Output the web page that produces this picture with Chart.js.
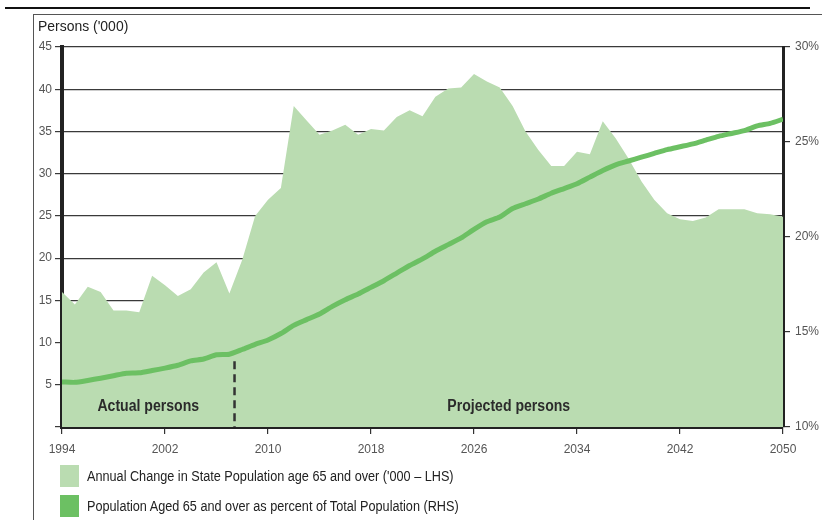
<!DOCTYPE html>
<html>
<head>
<meta charset="utf-8">
<script src="https://cdn.jsdelivr.net/npm/chart.js@4.4.1/dist/chart.umd.min.js"></script>
<style>
body{margin:0;background:#fff;font-family:"Liberation Sans",Arial,sans-serif;}
#wrap{position:relative;width:822px;height:520px;overflow:hidden;}
#chart{position:absolute;left:0;top:0;}
.rule{position:absolute;}
.ttl{position:absolute;left:38px;top:17px;font-size:15px;color:#222;transform:scaleX(.93);transform-origin:left top;white-space:nowrap;}
.leg{position:absolute;left:60px;height:22px;font-size:14px;color:#222;white-space:nowrap;}
.leg i{position:absolute;left:0;top:0;width:19px;height:22px;}
.leg span{position:absolute;left:27px;top:3px;transform:scaleX(.905);transform-origin:left top;}
</style>
</head>
<body>
<div id="wrap">
  <canvas id="chart" width="822" height="520"></canvas>
  <div class="rule" style="left:5px;top:7px;width:805px;height:2px;background:#111"></div>
  <div class="rule" style="left:33px;top:14px;width:789px;height:1px;background:#555"></div>
  <div class="rule" style="left:33px;top:14px;width:1px;height:506px;background:#555"></div>
  <div class="ttl">Persons ('000)</div>
  <div class="leg" style="top:465px"><i style="background:#badcb1"></i><span>Annual Change in State Population age 65 and over ('000 – LHS)</span></div>
  <div class="leg" style="top:495px"><i style="background:#6cc063"></i><span>Population Aged 65 and over as percent of Total Population (RHS)</span></div>
</div>
<script>
// years 1994..2050
const years = [1994,1995,1996,1997,1998,1999,2000,2001,2002,2003,2004,2005,2006,2007,2008,2009,2010,2011,2012,2013,2014,2015,2016,2017,2018,2019,2020,2021,2022,2023,2024,2025,2026,2027,2028,2029,2030,2031,2032,2033,2034,2035,2036,2037,2038,2039,2040,2041,2042,2043,2044,2045,2046,2047,2048,2049,2050];

// annual change in 65+ population, '000 (LHS)
const annualChange = [16.0,14.5,16.6,16.0,13.8,13.8,13.6,17.9,16.8,15.5,16.3,18.3,19.5,15.8,19.8,25.0,26.9,28.3,38.0,36.3,34.6,35.1,35.8,34.6,35.3,35.1,36.7,37.5,36.8,39.1,40.1,40.2,41.8,40.9,40.2,38.0,35.0,32.8,30.9,30.9,32.6,32.3,36.2,34.2,31.8,29.1,26.9,25.3,24.6,24.4,24.8,25.8,25.8,25.8,25.3,25.2,24.9];

// 65+ as percent of total population (RHS)
const pctAged = [12.37,12.35,12.45,12.57,12.7,12.83,12.85,12.97,13.1,13.25,13.48,13.58,13.8,13.83,14.08,14.35,14.58,14.92,15.35,15.65,15.95,16.35,16.7,17.0,17.35,17.7,18.1,18.5,18.85,19.25,19.6,19.95,20.4,20.8,21.05,21.5,21.75,22.0,22.3,22.55,22.8,23.15,23.5,23.8,24.0,24.2,24.4,24.6,24.75,24.9,25.1,25.3,25.45,25.6,25.85,25.98,26.2];

// actual / projected split
const splitYear = 2007.4;
const splitTop = 7.8;

const noteLabels = ['Actual persons','Projected persons'];
const noteYears = [2000.7,2028.7];
const noteLevel = 2.4;

const leftTicks = [0,5,10,15,20,25,30,35,40,45];
const rightTicks = [10,15,20,25,30];
const xTicks = [1994,2002,2010,2018,2026,2034,2042,2050];

const tickFont = {family:'"Liberation Sans", Arial, sans-serif', size:12};

const notes = {
  id:'notes',
  afterDatasetsDraw(chart){
    const {ctx, scales:{x, y}} = chart;
    ctx.save();
    ctx.fillStyle = '#2b2b2b';
    ctx.font = 'bold 16px "Liberation Sans", Arial, sans-serif';
    ctx.textAlign = 'center';
    ctx.textBaseline = 'middle';
    noteLabels.forEach((t, i) => {
      ctx.save();
      ctx.translate(x.getPixelForValue(noteYears[i]), y.getPixelForValue(noteLevel));
      ctx.scale(0.88, 1);
      ctx.fillText(t, 0, 0);
      ctx.restore();
    });
    ctx.restore();
  }
};

new Chart(document.getElementById('chart'), {
  type:'line',
  data:{
    datasets:[
      {
        label:'Population Aged 65 and over as percent of Total Population (RHS)',
        data:years.map((yr,i)=>({x:yr,y:pctAged[i]})),
        yAxisID:'y1', borderColor:'#6cc063', borderWidth:5, pointRadius:0, tension:0.2, fill:false, order:1
      },
      {
        label:'split',
        data:[{x:splitYear,y:splitTop},{x:splitYear,y:0}],
        yAxisID:'y', borderColor:'#333', borderWidth:2.5, borderDash:[8,5], pointRadius:0, fill:false, order:0
      },
      {
        label:"Annual Change in State Population age 65 and over ('000 – LHS)",
        data:years.map((yr,i)=>({x:yr,y:annualChange[i]})),
        yAxisID:'y', borderWidth:0, borderColor:'rgba(0,0,0,0)', backgroundColor:'#badcb1', pointRadius:0, tension:0, fill:'origin', order:2
      }
    ]
  },
  options:{
    responsive:false,
    animation:false,
    devicePixelRatio:1,
    layout:{padding:{top:47,left:0,right:0,bottom:0}},
    plugins:{legend:{display:false}, tooltip:{enabled:false}},
    scales:{
      x:{
        type:'linear', min:1994, max:2050,
        afterBuildTicks:s=>{ s.ticks = xTicks.map(v=>({value:v})); },
        afterFit:s=>{ s.height = 93; },
        grid:{drawOnChartArea:false, drawTicks:true, tickLength:7, color:'#333', lineWidth:1.2},
        border:{color:'#222', width:4},
        ticks:{font:tickFont, color:'#555', padding:8, maxRotation:0, autoSkip:false, callback:v=>String(v)}
      },
      y:{
        position:'left', min:0, max:45,
        afterBuildTicks:s=>{ s.ticks = leftTicks.map(v=>({value:v})); },
        afterFit:s=>{ s.width = 62; },
        grid:{color:'#3a3a3a', lineWidth:1.2, tickLength:7},
        border:{color:'#222', width:4},
        ticks:{font:tickFont, color:'#555', padding:3, callback:v=>v===0?'':String(v)}
      },
      y1:{
        position:'right', min:10, max:30,
        afterBuildTicks:s=>{ s.ticks = rightTicks.map(v=>({value:v})); },
        afterFit:s=>{ s.width = 39; },
        grid:{drawOnChartArea:false, tickLength:7, color:'#333', lineWidth:1.2},
        border:{color:'#222', width:3},
        ticks:{font:tickFont, color:'#555', padding:5, callback:v=>v+'%'}
      }
    }
  },
  plugins:[notes]
});
</script>
</body>
</html>
